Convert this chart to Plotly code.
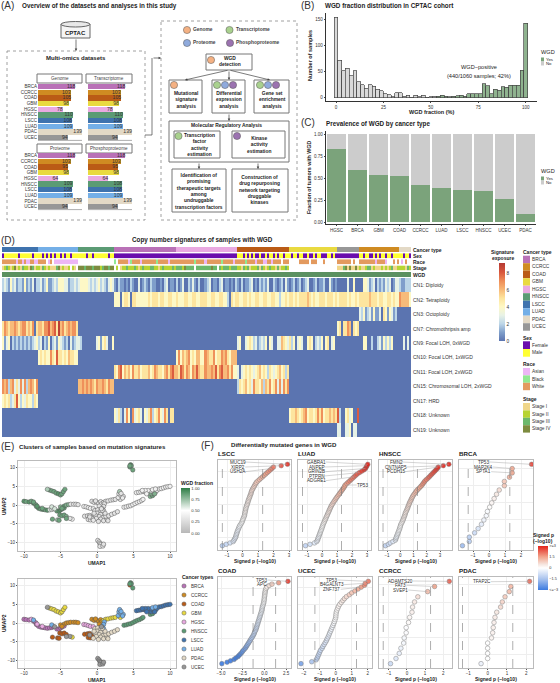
import plotly.graph_objects as go

W, H = 560, 683
FONT = "Liberation Sans"

# ---------- DATA ----------
CANCERS = ["BRCA", "CCRCC", "COAD", "GBM", "HGSC", "HNSCC", "LSCC", "LUAD", "PDAC", "UCEC"]
CANCER_COLORS = ["#b971b7", "#cf8b22", "#ba5b16", "#e9da40", "#e9a9e1", "#5b9b74", "#3f73ae", "#74afe7", "#e3d9c6", "#979797"]

GENOME = [118, 103, 105, 98, 78, 110, 108, 109, 139, 94]
TRANSCRIPTOME = [118, 103, 105, 98, 78, 110, 108, 109, 139, 94]
PROTEOME = [118, 103, 95, 98, 64, 109, 108, 109, 139, 94]
PHOSPHO = [118, 103, 95, 98, 64, 108, 108, 109, 139, 94]

HIST_X = list(range(0, 102, 2))
HIST_Y = [155, 72, 52, 57, 42, 52, 31, 25, 18, 25, 22, 16, 13, 8, 6, 2, 10, 10, 3, 5, 0, 5, 2, 5, 1, 2, 3, 3, 5, 3,
          2, 3, 4, 5, 3, 8, 8, 8, 8, 27, 23, 8, 16, 14, 21, 20, 24, 24, 24, 53, 143]

PREV_TYPES = ["HGSC", "BRCA", "GBM", "COAD", "CCRCC", "LUAD", "LSCC", "HNSCC", "UCEC", "PDAC"]
PREV_YES = [0.83, 0.59, 0.53, 0.52, 0.42, 0.39, 0.36, 0.35, 0.26, 0.09]

SEG_NAMES = ["LSCC", "LUAD", "HNSCC", "BRCA", "HGSC", "COAD", "GBM", "UCEC", "CCRCC", "PDAC"]
SEG_N = [18, 20, 18, 31, 30, 26, 24, 11, 20, 6]

SEX = ["FMMMMMMMFMMMMMMFMM", "MMFMFMFMFMMFMFMMFMMM", "MMMMFMMFMMMMMMMFMM", "F" * 31, "F" * 30,
       "MMMFMFMFMFFMFFMFMMFMFMMFMM", "MFMMFMMFFMFFMFMMFFFMMFMF", "F" * 11, "MMFMMFFMFMFMMFMMFMMM", "MMFMMF"]
RACE = ["WWWWWWWAWWAWAAWWAA", "WWWW_AW_AAAAAAAAAAAA", "_" * 18, "B_WWWWWABWWWWAWWWWWWWBWWWWWAWWW",
        "WWWWWWWWWBWWWWAWWWWWWWBWWWWWAW", "WWWWBWWWWAWWWAAWWAWWWW_WWW", "_____WWWWW_WWW___W______",
        "WWWWWWW_W__", "WWWWWWWWAWWWWA___W_W", "_A_W__"]
STAGE = ["123212412132214312", "2132121113412112_21_", "444344434442344344", "_2_1223222321232223322123222232",
         "333243333_3333333433_323332333", "22132312223132123221312232", "_" * 24, "11134141141",
         "21123312111212123112", "222132"]

CN_LABELS = ["CN1: Diploidy", "CN2: Tetraploidy", "CN3: Octoploidy", "CN7: Chromothripsis amp", "CN9: Focal LOH, 0xWGD",
             "CN10: Focal LOH, 1xWGD", "CN11: Focal LOH, 2xWGD", "CN15: Chromosomal LOH, 2xWGD", "CN17: HRD",
             "CN18: Unknown", "CN19: Unknown"]
CN1 = ["232142312214121302", "23124112324443312232", "344443232342321343", "1021101021003012102110010230110",
       "201300213102001230110230110102", "10201123010212130021012031", "012012012300120112003101", "00000300400",
       "00443123021213230133", "211222"]
CN2 = ["0" * 18, "0" * 20, "0" * 18, "4440455405544444454555455445544", "544455445544555445544554420545",
       "54455454455445544554424454", "554545555654544555455545", "45555454454", "55555655545544554544", "766664"]
CN3 = ["0" * 18, "0" * 20, "0" * 18, "0" * 31, "0" * 30, "0" * 26, "0" * 24, "0" * 11, "32412314113054143120", "0" * 6]
CN7 = ["576566765677565705", "66577867859675676775", "0" * 18, "0" * 31, "0" * 30, "0" * 26, "0" * 24, "45055760545",
       "0" * 20, "0" * 6]
CN9 = ["413402121212121234", "23021402314321203123", "320000000341453004", "0" * 31, "0" * 30,
       "34003454231232404300336543", "524034300454023240450340", "0" * 11, "00440020023142424000", "003030"]
CN10 = ["0" * 18, "45454475485545465544", "0" * 18, "0" * 31, "474656745466447655745576754666", "0" * 26, "0" * 24,
        "0" * 11, "0" * 20, "0" * 6]
CN11 = ["0" * 18, "0" * 20, "0" * 18, "5478465647556455564576554675786", "658757647686557667685786675744",
        "30345454345645425434564525", "0" * 24, "0" * 11, "0" * 20, "0" * 6]
CN15 = ["767267353737267647", "0" * 20, "667676765766765766", "0" * 31, "0" * 30, "25456453755462657457373757",
        "0" * 24, "0" * 11, "0" * 20, "0" * 6]
CN17 = ["454523584243544254", "0" * 20, "0" * 18, "0" * 31, "0" * 30, "0" * 26, "0" * 24, "0" * 11, "0" * 20, "0" * 6]
CN18 = ["0" * 18, "0" * 20, "0" * 18, "4352037407345304357245743750550", "0" * 30, "0" * 26,
        "455654567455457574556565", "82004534008", "0" * 20, "0" * 6]
CN19 = ["0" * 18, "0" * 20, "0" * 18, "0" * 31, "0" * 30, "0" * 26, "0" * 24, "33003340330", "0" * 20, "0" * 6]

UMAP_BRCA = [(-10, 1, .9), (-9.7, .9, .85), (-9.3, .8, .9), (-8.7, .5, .9), (-8.4, .1, .85), (-8.3, -.4, .8), (-8, -.9, .9),
             (-7.7, -1.1, .85), (-7.4, -1.2, .9), (-7.1, -1.3, .85), (-6.8, -1.4, .9), (-6.5, -1.3, .6), (-6.2, -1.2, .55),
             (-6, -1, .5), (-5.5, -1.6, .85), (-5.2, -1.7, .9), (-5, -1.3, .9), (-4.8, -1.1, .85), (-4.5, -.8, .85)]
UMAP_HGSC = [(-9, 1, .85), (-8.2, -.3, .9), (-7.5, -.9, .85), (-1.8, -.4, .4), (-1.5, -.5, .4), (-1.2, -.7, .35),
             (-.9, -.9, .4), (-.5, -1, .35)]
UMAP_GBM = [(-6.5, 4, .85), (-6.2, 3.8, .85), (-5.9, 3.6, .85), (-5.6, 3.2, .85), (-5.3, 3, .9), (-5, 2.7, .85),
            (-4.8, 3, .85), (-4.6, 3.6, .85), (-4.4, 4.2, .85), (.9, .7, .3), (1.2, 1, .3), (1.5, 1.1, .3), (1.9, 1.3, .35),
            (2.2, 1.4, .3), (2.5, 1.5, .3), (3.2, 1.5, .3), (-3.4, -3.8, .4)]
UMAP_CCRCC = [(-4.5, -.3, .9), (-4.2, 0, .8), (-3.9, .1, .8), (-3.6, .2, .3), (-3.2, .2, .3), (-2.9, .2, .3), (-2.6, .1, .3),
              (-5, -.5, .8), (-4.8, -.9, .85), (-.7, 1, .3), (-.4, .7, .3), (-.1, .8, .3), (.2, .5, .3), (.5, .9, .3),
              (-.2, 1.1, .3), (.6, .3, .3), (.3, -.3, .3)]
UMAP_COAD = [(-6.1, -3.8, .85), (-5.4, -4, .7), (-5.2, -4.1, .85), (-5.1, -2.7, .85), (-4.8, -2.9, .85), (-4.5, -2.7, .85),
             (-4.2, -3.1, .8), (-1.7, -3, .3), (-1.3, -2.9, .3), (-1, -2.8, .3), (-.8, -3.3, .3), (-1.2, -3.9, .3),
             (-.9, -4, .3), (-.6, -3.7, .3), (4.5, 10.2, .85), (.8, -10.6, .3), (.6, -10.9, .3)]
UMAP_HNSCC = [(4.6, 10.8, .9), (4.7, 10.5, .85), (4.5, 10.5, .85), (4.9, 9.4, .85), (3.7, -.6, .4), (4, -.5, .4), (4.3, -.3, .35),
              (4.6, -.2, .35), (4.9, .1, .4), (5.2, .4, .4), (5.5, .7, .4), (5.8, .9, .35), (6.1, 1.2, .4), (6.3, 1.5, .4),
              (7.3, 2.3, .8), (7.6, 2.5, .85)]
UMAP_LSCC = [(5.4, 3.3, .4), (5.7, 3.4, .35), (6, 3.5, .4), (6.3, 3.6, .4), (6.6, 3.5, .35), (6.9, 3.4, .4), (7.2, 3.1, .75),
             (7.5, 3, .8), (7.8, 3, .8), (8, 3.4, .4), (7.7, 3.6, .4), (7.4, 3.8, .4), (7, 3.9, .4), (6.6, 3.9, .4), (6.2, 3.9, .4),
             (8.2, 3.9, .4), (8.5, 4.3, .35), (8.8, 4.4, .4), (9.1, 4.6, .4), (9.4, 4.8, .35), (9.7, 4.9, .4), (10, 5, .4),
             (7.9, 3, .8), (6.8, 3, .4)]
UMAP_LUAD = [(-8.7, .8, .85), (-6.2, -.5, .6), (2.9, 2, .35), (3, 3, .35), (3.1, 3.6, .7), (3.3, 2.5, .35), (3.6, 2.3, .35),
             (3.5, 1.9, .35), (3.3, 3.1, .3), (1, .3, .3), (.9, -.4, .3), (.7, -1, .3), (.9, -1.5, .3), (7.6, 4.1, .4), (8, 4.3, .4)]
UMAP_PDAC = [(-.3, -1.5, .3), (.1, -1.3, .3), (.4, -1.8, .3), (0, -2.2, .3), (.5, -2.5, .3), (-.2, -2.8, .3), (.3, -3.1, .3),
             (.8, -3.4, .3), (-.1, -3.6, .3), (.5, -3.8, .3), (.9, -4.2, .3), (1.4, -3.8, .3), (1.2, -3, .3), (1.6, -2.9, .3),
             (2, -2.5, .3), (2.4, -2.2, .3), (2.8, -1.8, .3), (1.1, -2.2, .3), (1.5, -4.2, .3), (.2, -4.4, .3), (-.5, -4.1, .35),
             (-.4, -2.2, .3), (.7, -1.5, .3)]
UMAP_UCEC = [(-6.8, 4.2, .7), (-3.7, -3.6, .3), (-4.2, -3.6, .85), (.1, -9.5, .3), (.3, -9.9, .3), (.4, -10.3, .3), (.5, -10.6, .3),
             (.4, -11.1, .3), (.8, -11, .3), (.9, -10.5, .3), (-1, -3.2, .3), (.6, -1, .3), (-5.8, -1, .6)]

P_LSCC = [-1.3, -1.05, -.8, -.6, -.55, -.5, -.45, -.42, -.4, -.37, -.34, -.31, -.27, -.23, -.2, -.15, -.08, -.04, 0, .02, .06, .1, .13,
          .14, .16, .18, .2, .21, .24, .27, .3, .33, .36, .38, .42, .45, .48, .52, .55, .57, .6, .65, .7, .75, .8, .85, .9, 1, 1.1, 1.2,
          1.3, 1.4, 1.5, 1.6, 1.7, 1.8, 1.9, 2.0, 2.5, 2.9]
P_LUAD = [-1.1, -.8, -.5, -.35, -.3, -.27, -.24, -.2, -.17, -.14, -.1, -.07, -.03, 0, .03, .06, .1, .14, .18, .22, .26, .3, .34, .38, .42,
          .46, .5, .54, .58, .63, .68, .74, .8, .86, .92, .98, 1.05, 1.12, 1.18, 1.25, 1.32, 1.38, 1.45, 1.5, 1.55, 1.65, 1.75, 1.85, 1.95,
          2.05, 2.15, 2.25, 2.35, 2.5, 2.65, 2.8, 2.9, 2.95, 3.0, 3.05]
P_HNSCC = [-1.12, -.9, -.75, -.55, -.37, -.33, -.3, -.26, -.22, -.18, -.14, -.1, -.06, -.02, 0, .03, .08, .13, .18, .22, .26, .3, .34, .37, .4,
           .45, .5, .54, .58, .62, .66, .7, .75, .8, .85, .9, .95, 1.02, 1.1, 1.17, 1.25, 1.35, 1.45, 1.55, 1.65, 1.72, 1.8, 1.87, 1.98,
           2.1, 2.2, 2.3, 2.4, 2.5, 2.6, 2.7, 2.8, 2.87, 3.25, 3.67]
P_BRCA = [-1.66, -1.23, -1.23, -.9, -.68, -.47, -.32, -.17, -.1, .04, .17, .32, .47, .64, .96, .96, 1.28, 1.45, 1.45, 2.66]
P_COAD = [-4.9, -4.3, -3.9, -3.5, -3.3, -3.05, -2.9, -2.75, -2.6, -2.5, -2.35, -2.2, -2.1, -2, -1.9, -1.8, -1.7, -1.6, -1.5, -1.4, -1.3, -1.22,
          -1.15, -1.1, -1, -.95, -.9, -.85, -.8, -.75, -.7, -.65, -.6, -.55, -.5, -.45, -.4, -.35, -.3, -.27, -.24, -.2, -.15, -.1, -.07, -.04,
          -.01, 0, .02, .04, .06, .08, .1, .14, .2, .3, .55, .88, 1.65, 2.73]
P_UCEC = [-2.17, -1.5, -1.22, -1.15, -1.1, -1.05, -1, -.95, -.85, -.8, -.72, -.65, -.58, -.53, -.47, -.42, -.38, -.32, -.27, -.22, -.17, -.12,
          -.08, -.04, 0, .01, .02, .04, .08, .13, .18, .25, .35, .45, .55, .67, .85, 1, 1.2, 1.4, 1.6, 1.8, 1.85, 2.04]
P_CCRCC = [-.9, -.6, -.42, -.33, -.18, -.15, -.04, -.04, .09, .15, .28, .31, .42, .6, 1.14, 1.52, 2.33]
P_PDAC = [-.34, 0, 0, 0, 0, .2, .26, .29, .33, .38, .47, .67, .76, .9, 1.12, 1.2, 2.17]

GENES_LSCC = [("MUC19", 237.7, 462, -1), ("XIRP2", 237.7, 467, -2), ("USH2A", 237.7, 471.7, -4)]
GENES_LUAD = [("GABRA1", 316.7, 462, -1), ("ANPEP", 316.7, 467, -2), ("GRIN2B", 316.7, 471.7, -4),
              ("PTPRN", 316.7, 476, -7), ("ADGRE1", 316.7, 480.7, -10), ("TP53", 362.7, 485, -16)]
GENES_HNSCC = [("FMN2", 396, 462, -1), ("CNTNAP5", 396, 467, -2), ("PCDH15", 396, 471.7, -3)]
GENES_BRCA = [("TP53", 483.7, 462, -1), ("MAP2K4", 483.7, 467, -2), ("SPTA1", 483.7, 471.7, -3)]
GENES_COAD = [("TP53", 261.7, 580, -1), ("APC", 261.7, 584.7, -2)]
GENES_UCEC = [("TP53", 331.7, 580, -1), ("B4GALNT3", 331.7, 584.7, -2), ("ZNF737", 331.7, 589.3, -4)]
GENES_CCRCC = [("ADAMTS20", 400.7, 581, -1), ("FAT3", 400.7, 585.3, -2), ("SVEP1", 400.7, 590, -3)]
GENES_PDAC = [("TFAP2C", 481.7, 581.7, -1)]

# ---------- helpers ----------
fig = go.Figure()
axes = {}
shapes = []
anns = []
nax = [0]


def fx(x): return x / W
def fy(y): return 1 - y / H


def txt(s, x, y, size=5, bold=False, anchor="center", color="#222", angle=0):
    anns.append(dict(xref="paper", yref="paper", x=fx(x), y=fy(y), text=f"<b>{s}</b>" if bold else s, showarrow=False,
                     xanchor=anchor, yanchor="middle", borderpad=0, borderwidth=0, textangle=angle, align=anchor,
                     font=dict(family=FONT, size=size, color=color)))


def rect(x0, y0, x1, y1, line="#777", lw=1, fill="rgba(0,0,0,0)", dash="solid"):
    shapes.append(dict(type="rect", xref="paper", yref="paper", x0=fx(x0), x1=fx(x1), y0=fy(y0), y1=fy(y1),
                       line=dict(color=line, width=lw, dash=dash), fillcolor=fill, layer="below"))


def sw(x0, y0, x1, y1, fill):
    shapes.append(dict(type="rect", xref="paper", yref="paper", x0=fx(x0), x1=fx(x1), y0=fy(y0), y1=fy(y1),
                       line=dict(width=0), fillcolor=fill))


def circ(cx, cy, r, fill, line="#555", lw=.5):
    shapes.append(dict(type="circle", xref="paper", yref="paper", x0=fx(cx - r), x1=fx(cx + r), y0=fy(cy + r), y1=fy(cy - r),
                       line=dict(color=line, width=lw), fillcolor=fill))


def seg(x0, y0, x1, y1, color="#555", lw=.7, dash="solid"):
    shapes.append(dict(type="line", xref="paper", yref="paper", x0=fx(x0), x1=fx(x1), y0=fy(y0), y1=fy(y1),
                       line=dict(color=color, width=lw, dash=dash)))


def arrow(x0, y0, x1, y1):
    anns.append(dict(xref="paper", yref="paper", axref="pixel", ayref="pixel", x=fx(x1), y=fy(y1), ax=x0 - x1, ay=y0 - y1, text="",
                     showarrow=True, arrowhead=2, arrowsize=.7, arrowwidth=.7, arrowcolor="#444"))


def calib(p0, v0, p1, v1, a, b):
    k = (v1 - v0) / (p1 - p0)
    return [v0 + (a - p0) * k, v0 + (b - p0) * k]


def add_ax(x0, y0, x1, y1, xopt, yopt):
    nax[0] += 1
    n = nax[0]
    s = "" if n == 1 else str(n)
    xo = dict(domain=[fx(x0), fx(x1)], anchor="y" + s, showgrid=False, zeroline=False, showline=False, ticks="", showticklabels=False)
    yo = dict(domain=[fy(y1), fy(y0)], anchor="x" + s, showgrid=False, zeroline=False, showline=False, ticks="", showticklabels=False)
    xo.update(xopt)
    yo.update(yopt)
    axes["xaxis" + s] = xo
    axes["yaxis" + s] = yo
    return "x" + s, "y" + s


tf = lambda size=4.5: dict(family=FONT, size=size, color="#333")

# ---------- Panel letters / titles ----------
for letter, x, y in [("(A)", 1, 6), ("(B)", 301, 6), ("(C)", 301, 122), ("(D)", 1, 240), ("(E)", 1, 446), ("(F)", 201, 445)]:
    txt(letter, x, y, 10, anchor="left", color="#333")
txt("Overview of the datasets and analyses in this study", 22, 6, 6.3, True, "left")
txt("WGD fraction distribution in CPTAC cohort", 325, 6, 6.3, True, "left")
txt("Prevalence of WGD by cancer type", 326, 124, 6.3, True, "left")
txt("Copy number signatures of samples with WGD", 132, 240, 6.3, True, "left")
txt("Clusters of samples based on mutation signatures", 19, 446, 6.1, True, "left")
txt("Differentially mutated genes in WGD", 231, 444, 6.1, True, "left")

# ---------- Panel A ----------
rect(7, 51, 145, 220, line="#888", lw=.8, dash="dot")
rect(161, 21, 297, 220, line="#888", lw=.8, dash="dot")
rect(61, 24, 90, 38, line="#666", lw=1, fill="#f5f5f5")
shapes.append(dict(type="circle", xref="paper", yref="paper", x0=fx(61), x1=fx(90), y0=fy(27), y1=fy(21.5),
                   line=dict(color="#666", width=1), fillcolor="#e8e8e8"))
txt("CPTAC", 75.5, 33, 6, True)
arrow(76, 38, 76, 51)
txt("Multi-omics datasets", 75.5, 58, 6, True)
seg(145, 135, 152, 135, color="#444")
seg(152, 135, 152, 58, color="#444")
arrow(152, 58, 161, 58)

O, G, B, P = "#f4b183", "#a9d18e", "#8faadc", "#9b72b0"
for cx, cy, c, lab, tx in [(187, 30, O, "Genome", 193), (229.5, 30, G, "Transcriptome", 236),
                           (187, 43, B, "Proteome", 193), (230, 43, P, "Phosphoproteome", 236)]:
    circ(cx, cy, 3.6, c)
    txt(lab, tx, cy, 4.9, True, "left", color="#444")

rect(206, 54, 252, 70)
circ(211, 60, 3.6, O)
txt("WGD<br>detection", 229.5, 62, 4.9, True)
for bx0, bx1, tc, lab, cs in [(169, 202, 186, "Mutational<br>signature<br>analysis", [(174, O)]),
                              (212, 245, 229, "Differential<br>expression<br>analysis", [(217, G), (225, B), (233, P)]),
                              (254, 289, 272, "Gene set<br>enrichment<br>analysis", [(260, G), (268, B), (276, P)])]:
    rect(bx0, 80, bx1, 113)
    txt(lab, tc, 100, 4.9, True)
    for cx, c in cs:
        circ(cx, 85, 3.6, c)
arrow(229, 70, 185, 80)
arrow(229, 70, 229, 80)
arrow(229, 70, 270, 80)
arrow(229, 113, 229, 121)
rect(169, 121, 289, 162)
txt("Molecular Regulatory Analysis", 226, 126, 4.9, True)
rect(174, 131, 220, 158)
circ(178.5, 136, 3.6, G)
txt("Transcription<br>factor<br>activity<br>estimation", 199, 145, 4.9, True)
rect(232, 131, 285, 158)
circ(237, 136, 3.6, P)
txt("Kinase<br>activity<br>estimation", 259, 145, 4.9, True)
arrow(199, 162, 199, 169)
arrow(258, 162, 258, 169)
rect(172, 169, 226, 212)
txt("Identification of<br>promising<br>therapeutic targets<br>among<br>undruggable<br>transcription factors", 199, 191, 4.9, True)
rect(232, 169, 288, 212)
txt("Construction of<br>drug repurposing<br>network targeting<br>druggable<br>kinases", 259, 190, 4.9, True)

for hx0, hx1, hy, lab in [(37, 82, 74, "Genome"), (86, 132, 74, "Transcriptome"), (37, 82, 144, "Proteome"), (86, 132, 144, "Phosphoproteome")]:
    rect(hx0, hy, hx1, hy + 9)
    txt(lab, (hx0 + hx1) / 2, hy + 4.5, 4.6, color="#444")

for vals, x0, x1, y0, y1, lab in [(GENOME, 38, 82, 83.7, 140.4, True), (TRANSCRIPTOME, 88, 132, 83.7, 140.4, False),
                                  (PROTEOME, 38, 82, 152.9, 209.6, True), (PHOSPHO, 88, 132, 152.9, 209.6, False)]:
    xa, ya = add_ax(x0, y0, x1, y1, dict(range=[0, 139]),
                    dict(type="category", categoryorder="array", categoryarray=CANCERS, autorange="reversed", showticklabels=lab,
                         tickfont=tf(4.5), ticks="", ticklen=0))
    fig.add_trace(go.Bar(x=vals, y=CANCERS, orientation="h", xaxis=xa, yaxis=ya, width=.93, marker=dict(color=CANCER_COLORS, line=dict(width=0))))
    fig.add_trace(go.Scatter(x=vals, y=CANCERS, mode="text", text=[str(v) for v in vals], textposition="middle left", xaxis=xa, yaxis=ya, cliponaxis=False,
                             textfont=dict(family=FONT, size=5.2, color="#333")))
    seg(x0, y1, x1, y1, color="#777", lw=.6)

# ---------- Panel B ----------
hc = ["#8fb38f" if v >= 54 else "#d9d9d9" for v in HIST_X]
xa, ya = add_ax(326, 13, 537, 101,
                dict(range=calib(336, 0, 525.7, 100, 326, 537), showline=True, linecolor="#333", linewidth=.7, ticks="outside", ticklen=1.5,
                     tickwidth=.5, tickvals=[0, 25, 50, 75, 100], showticklabels=True, tickfont=tf(4.5)),
                dict(range=calib(19.7, 150, 97.7, 0, 101, 13), showline=True, linecolor="#333", linewidth=.7, ticks="outside", ticklen=1.5,
                     tickwidth=.5, tickvals=[0, 50, 100, 150], showticklabels=True, tickfont=tf(4.5)))
fig.add_trace(go.Bar(x=HIST_X, y=HIST_Y, width=2, xaxis=xa, yaxis=ya, marker=dict(color=hc, line=dict(color="#444", width=.7))))
txt("WGD fraction (%)", 431, 112, 5.5, True)
txt("Number of samples", 310, 56, 5.5, True, angle=-90)
txt("WGD−positive", 479, 67, 5.6)
txt("(440/1060 samples; 42%)", 479, 76, 5.6)
for ty in (52, 171):
    txt("WGD", 541, ty, 5.6, anchor="left")
    sw(541, ty + 5.5, 544, ty + 9.5, "#7ba37b")
    sw(541, ty + 9.5, 544, ty + 13.5, "#cccccc")
    txt("Yes", 545.5, ty + 7.5, 4.3, anchor="left")
    txt("No", 545.5, ty + 11.5, 4.3, anchor="left")

# ---------- Panel C ----------
xa, ya = add_ax(326, 131, 536, 224,
                dict(type="category", categoryorder="array", categoryarray=PREV_TYPES, showline=True, linecolor="#333", linewidth=.7, ticks="outside", ticklen=1.5,
                     tickwidth=.5, showticklabels=True, tickfont=tf(4.5), tickangle=0),
                dict(range=calib(134, 1, 222, 0, 224, 131), showline=True, linecolor="#333", linewidth=.7, ticks="outside", ticklen=1.5,
                     tickwidth=.5, tickvals=[0, .25, .5, .75, 1], ticktext=["0.00", "0.25", "0.50", "0.75", "1.00"], showticklabels=True, tickfont=tf(4.5)))
fig.add_trace(go.Bar(x=PREV_TYPES, y=PREV_YES, xaxis=xa, yaxis=ya, width=.9, marker=dict(color="#7ba37b", line=dict(width=0))))
fig.add_trace(go.Bar(x=PREV_TYPES, y=[round(1 - v, 2) for v in PREV_YES], xaxis=xa, yaxis=ya, width=.9, marker=dict(color="#cccccc", line=dict(width=0))))
txt("Fraction of tumors with WGD", 309, 178, 5.3, True, angle=-90)

# ---------- Panel D ----------
LEFT, RIGHT = 2, 411


def track(y0, y1, z, colors, zmax):
    n = max(zmax, 1)
    cs = []
    for i, c in enumerate(colors):
        cs += [[i / (n + 1), c], [(i + 1) / (n + 1), c]]
    xa, ya = add_ax(LEFT, y0, RIGHT, y1, dict(range=[-.5, len(z) - .5]), dict(range=[-.5, .5]))
    fig.add_trace(go.Heatmap(z=[z], xaxis=xa, yaxis=ya, colorscale=cs, zmin=-.5, zmax=n + .5, showscale=False, hoverinfo="skip"))


flat = lambda rows: "".join(rows)
seg_ids = [CANCERS.index(name) for name, c in zip(SEG_NAMES, SEG_N) for _ in range(c)]
track(247, 252.4, seg_ids, CANCER_COLORS, 9)
track(253.2, 258.4, ["FM".index(c) for c in flat(SEX)], ["#6a0dad", "#ffff33"], 1)
track(259.2, 264.4, ["_ABW".index(c) for c in flat(RACE)], ["#ffffff", "#edb6f5", "#92e892", "#e39a5f"], 3)
track(265.4, 270.4, ["_1234".index(c) for c in flat(STAGE)], ["#ffffff", "#f0d68a", "#b7d433", "#6cb86c", "#7d8b3f"], 4)
track(272, 277, [0] * len(seg_ids), ["#5b9160", "#5b9160"], 1)

SIG_SCALE = [[0, "#5b74b0"], [.11, "#7f9fcb"], [.22, "#bcd6e8"], [.33, "#e8f2e6"], [.44, "#fef8c4"], [.55, "#fde49d"],
             [.66, "#f7b877"], [.77, "#ee8d58"], [.88, "#d8573d"], [1, "#b53a33"]]
rows = [CN1, CN2, CN3, CN7, CN9, CN10, CN11, CN15, CN17, CN18, CN19]
z = [[int(c) for c in flat(r)] for r in rows]
xa, ya = add_ax(LEFT, 278, RIGHT, 437, dict(range=[-.5, len(seg_ids) - .5]), dict(range=[len(rows) - .5, -.5]))
fig.add_trace(go.Heatmap(z=z, xaxis=xa, yaxis=ya, colorscale=SIG_SCALE, zmin=0, zmax=9.2, hoverinfo="skip",
                         colorbar=dict(thickness=6, thicknessmode="pixels", len=78, lenmode="pixels", x=fx(499), xanchor="left", y=fy(341),
                                       yanchor="bottom", tickvals=[0, 2, 4, 6, 8], ticklen=0, outlinewidth=0, xpad=0, ypad=0,
                                       tickfont=dict(family=FONT, size=4.8, color="#333"))))
for i, lab in enumerate(CN_LABELS):
    txt(lab, 413, 278 + 14.45 * (i + .5), 5, anchor="left", color="#333")
for i, lab in enumerate(["Cancer type", "Sex", "Race", "Stage", "WGD"]):
    txt(lab, 413, [249.5, 255.8, 261.8, 268, 274.5][i], 5, True, "left")

txt("Signature", 502.7, 252, 5, True)
txt("exposure", 502.7, 258, 5, True)


def legend(title, ty, sy, labels, colors, h=7.5):
    txt(title, 522.7, ty, 5, True, "left")
    for i, (l, c) in enumerate(zip(labels, colors)):
        sw(523, sy + i * h, 530, sy + (i + 1) * h, c)
        txt(l, 531.7, sy + (i + .5) * h, 4.8, anchor="left", color="#333")


legend("Cancer type", 251.7, 255.7, CANCERS, CANCER_COLORS)
legend("Sex", 337.7, 341.3, ["Female", "Male"], ["#6a0dad", "#ffff33"], 7.7)
legend("Race", 364, 368, ["Asian", "Black", "White"], ["#edb6f5", "#92e892", "#e39a5f"], 7.4)
legend("Stage", 399.3, 403, ["Stage I", "Stage II", "Stage III", "Stage IV"], ["#f0d68a", "#b7d433", "#6cb86c", "#7d8b3f"], 7.4)

# ---------- Panel E ----------
UMAPS = dict(BRCA=UMAP_BRCA, CCRCC=UMAP_CCRCC, COAD=UMAP_COAD, GBM=UMAP_GBM, HGSC=UMAP_HGSC, HNSCC=UMAP_HNSCC,
             LSCC=UMAP_LSCC, LUAD=UMAP_LUAD, PDAC=UMAP_PDAC, UCEC=UMAP_UCEC)
FRAC_SCALE = [[0, "#b8b8b8"], [.5, "#ffffff"], [1, "#2e7d45"]]
grid = dict(showgrid=True, gridcolor="#eeeeee", gridwidth=.6, showline=True, mirror=True, linecolor="#bbbbbb", linewidth=1,
            ticks="outside", ticklen=1, tickwidth=.5, tickcolor="#555", showticklabels=True, tickfont=tf(4.5))
xcal = calib(24, -10, 170, 10, 18, 176)
xa, ya = add_ax(18, 461, 176, 551, dict(grid, range=xcal, tickvals=[-10, -5, 0, 5, 10]),
                dict(grid, range=calib(542.3, -10, 467.7, 10, 551, 461), tickvals=[-10, -5, 0, 5, 10]))
allp = [p for c in CANCERS for p in UMAPS[c]]
fig.add_trace(go.Scatter(x=[p[0] for p in allp], y=[p[1] for p in allp], mode="markers", xaxis=xa, yaxis=ya,
                         marker=dict(size=4.4, color=[p[2] for p in allp], colorscale=FRAC_SCALE, cmin=0, cmax=1, line=dict(color="#555", width=.5),
                                     showscale=True, colorbar=dict(thickness=9, thicknessmode="pixels", len=45, lenmode="pixels", x=fx(181), xanchor="left",
                                                                   y=fy(533), yanchor="bottom", tickvals=[0, .25, .5, .75, 1], ticktext=["0.00", "0.25", "0.50", "0.75", "1.00"],
                                                                   ticklen=0, outlinewidth=0, xpad=0, ypad=0, tickfont=dict(family=FONT, size=4.3, color="#333")))))
txt("WGD fraction", 181, 483, 5, True, "left")
xa, ya = add_ax(18, 579, 176, 668, dict(grid, range=xcal, tickvals=[-10, -5, 0, 5, 10]),
                dict(grid, range=calib(660.3, -10, 585.7, 10, 668, 579), tickvals=[-10, -5, 0, 5, 10]))
for c, col in zip(CANCERS, CANCER_COLORS):
    fig.add_trace(go.Scatter(x=[p[0] for p in UMAPS[c]], y=[p[1] for p in UMAPS[c]], mode="markers", xaxis=xa, yaxis=ya,
                             marker=dict(size=4.4, color=col, line=dict(color="#555", width=.5))))
txt("UMAP1", 97, 562.5, 5, True)
txt("UMAP1", 97, 679.5, 5, True)
txt("UMAP2", 4, 506, 5, True, angle=-90)
txt("UMAP2", 4, 623, 5, True, angle=-90)
txt("Cancer types", 182, 577, 5, True, "left")
for i, (c, col) in enumerate(zip(CANCERS, CANCER_COLORS)):
    circ(184, 586 + i * 9, 2.1, col, line="#555", lw=.5)
    txt(c, 191, 586 + i * 9, 4.6, anchor="left", color="#333")

# ---------- Panel F ----------
P_SCALE = [[0, "#3c7be0"], [.25, "#a9c3ee"], [.5, "#ffffff"], [.58, "#f6e6e0"], [.75, "#f2a58c"], [1, "#e3241b"]]
gridf = dict(grid)
first = [True]


def fpanel(name, vals, x0, y0, x1, y1, p0, v0, p1, v1, ticks, genes, ticktext=None):
    xr = calib(p0, v0, p1, v1, x0, x1)
    n = len(vals)
    pad = .053 * (n - 1)
    xopt = dict(gridf, range=xr, tickvals=ticks)
    if ticktext:
        xopt["ticktext"] = ticktext
    yr = [-pad, n - 1 + pad]
    xa, ya = add_ax(x0, y0, x1, y1, xopt,
                    dict(gridf, range=yr, tickvals=[n * .1, n * .3, n * .5, n * .7, n * .9], showticklabels=False, ticks=""))
    dots = dict(size=4.6, color=vals, colorscale=P_SCALE, cmin=-3, cmax=3, line=dict(color="#777", width=.5), opacity=.9)
    if first[0]:
        dots.update(showscale=True, colorbar=dict(thickness=10, thicknessmode="pixels", len=44, lenmode="pixels", x=fx(537), xanchor="left",
                                                  y=fy(590), yanchor="bottom", tickvals=[-3, -1.5, 0, 1.5, 3],
                                                  ticktext=["&lt;=−3", "−1.5", "0", "1.5", "&gt;=3"], ticklen=0, outlinewidth=0, xpad=1, ypad=0,
                                                  tickfont=dict(family=FONT, size=3.8, color="#333")))
        first[0] = False
    fig.add_trace(go.Scatter(x=vals, y=list(range(n)), mode="markers", xaxis=xa, yaxis=ya, marker=dots))
    for v in (-1.3, 1.3):
        shapes.append(dict(type="line", xref=xa, yref=ya + " domain", x0=v, x1=v, y0=0, y1=1, line=dict(color="#777", width=.6, dash="dash")))
    txt(name, x0, y0 - 7, 6.2, True, "left")
    txt("Signed p (−log10)", (x0 + x1) / 2, y1 + 10.5, 5, True)
    for g, tx, ty, idx in genes:
        rank = n + idx
        hx = x0 + (vals[idx] - xr[0]) / (xr[1] - xr[0]) * (x1 - x0)
        hy = y1 - (rank - yr[0]) / (yr[1] - yr[0]) * (y1 - y0)
        start = tx - len(g) * 1.5 if hx < tx else tx + len(g) * 1.5
        seg(start, ty, hx, hy, color="#aaaaaa", lw=.5)
        txt(g, tx, ty, 4.6, color="#333")


fpanel("LSCC", P_LSCC, 218, 460, 291, 550, 227, -1, 289, 3, [-1, 0, 1, 2, 3], GENES_LSCC)
fpanel("LUAD", P_LUAD, 298, 460, 371, 550, 307, -1, 367, 3, [-1, 0, 1, 2, 3], GENES_LUAD)
fpanel("HNSCC", P_HNSCC, 379, 460, 452, 550, 387, -1, 440, 3, [-1, 0, 1, 2, 3], GENES_HNSCC)
fpanel("BRCA", P_BRCA, 459, 460, 533, 550, 473, -1, 521, 2, [-1, 0, 1, 2], GENES_BRCA)
fpanel("COAD", P_COAD, 218, 577, 291, 668, 221, -5, 286, 2.5, [-5, -2.5, 0, 2.5], GENES_COAD, ["−5.0", "−2.5", "0.0", "2.5"])
fpanel("UCEC", P_UCEC, 298, 577, 371.7, 668, 303.7, -2, 367.7, 2, [-2, -1, 0, 1, 2], GENES_UCEC)
fpanel("CCRCC", P_CCRCC, 379, 577, 452, 668, 388.7, -1, 443.3, 2, [-1, 0, 1, 2], GENES_CCRCC)
fpanel("PDAC", P_PDAC, 459, 577, 533, 668, 468.3, -1, 526.3, 2, [-1, 0, 1, 2], GENES_PDAC)

txt("Signed p", 543, 534.5, 5, True)
txt("(−log10)", 543, 540.5, 5, True)

fig.update_layout(template="none", width=W, height=H, margin=dict(l=0, r=0, t=0, b=0, pad=0, autoexpand=False), paper_bgcolor="white", plot_bgcolor="white",
                  showlegend=False, barmode="stack", bargap=0.05, font=dict(family=FONT, size=5, color="#333"), shapes=shapes, annotations=anns, **axes)
fig.write_html("out.html", config=dict(displayModeBar=False, responsive=False),
               post_script="document.body.style.margin='0';document.documentElement.style.overflow='hidden';")
